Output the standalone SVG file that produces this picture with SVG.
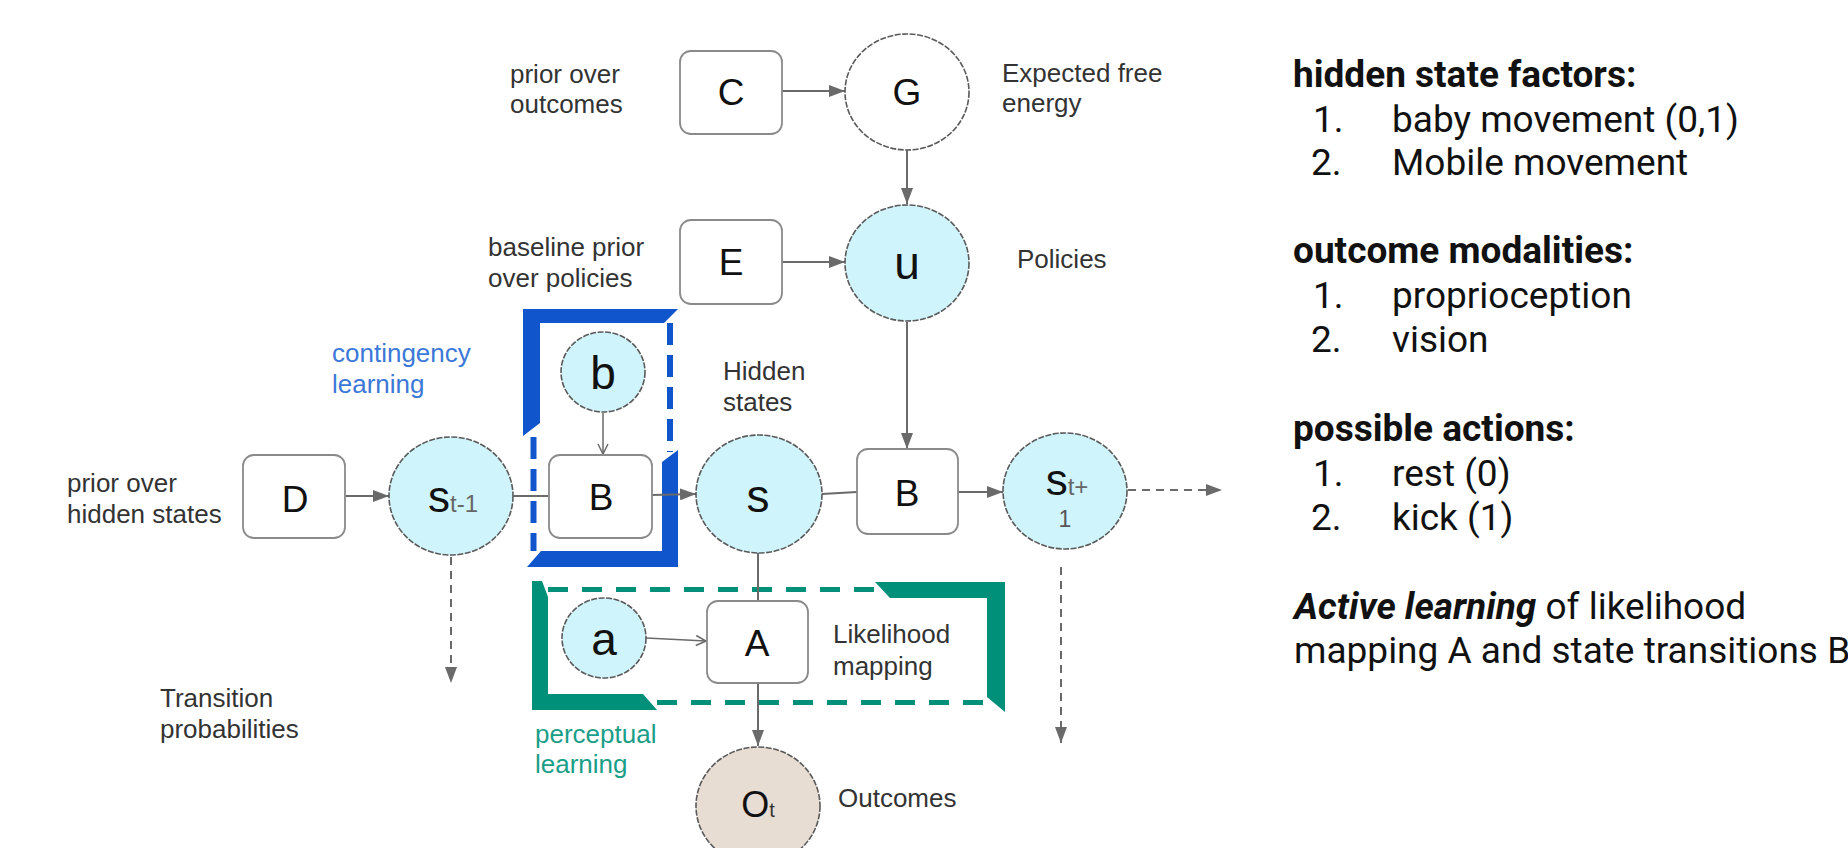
<svg xmlns="http://www.w3.org/2000/svg" width="1848" height="848" viewBox="0 0 1848 848">
<defs>
<style>
.lbl{font-family:"Liberation Sans",Arial,sans-serif;font-size:26px;fill:#333}
.blue{fill:#3c78d8}
.teal{fill:#1a9e88}
.box{fill:#fff;stroke:#8a8a8a;stroke-width:1.8}
.cyan{fill:#d0f4fc;stroke:#5a5a5a;stroke-width:1.6;stroke-dasharray:6 1.5}
.white{fill:#fff;stroke:#5a5a5a;stroke-width:1.6;stroke-dasharray:6 1.5}
.beige{fill:#e8ddd3;stroke:#5a5a5a;stroke-width:1.6;stroke-dasharray:6 1.5}
.cap{font-family:"Liberation Sans",Arial,sans-serif;font-size:37px;fill:#111;text-anchor:middle}
.low{font-family:"Liberation Sans",Arial,sans-serif;font-size:46px;fill:#111;text-anchor:middle}
.sub{fill:#666}
.conn{stroke:#6a6a6a;stroke-width:2;fill:none}
.dash{stroke:#6a6a6a;stroke-width:2;fill:none;stroke-dasharray:8 6}
.rt{font-family:Roboto,"Liberation Sans",sans-serif;font-size:37px;fill:#111}
.rb{font-weight:bold}
</style>
<marker id="arr" viewBox="0 0 16 12" refX="16" refY="6" markerWidth="16" markerHeight="12" markerUnits="userSpaceOnUse" orient="auto"><path d="M0,0 L16,6 L0,12 z" fill="#6a6a6a"/></marker>
<marker id="open" viewBox="0 0 12 12" refX="11" refY="6" markerWidth="12" markerHeight="12" markerUnits="userSpaceOnUse" orient="auto"><path d="M1,1 L11,6 L1,11" fill="none" stroke="#6a6a6a" stroke-width="1.5"/></marker>
</defs>
<rect width="1848" height="848" fill="#fff"/>

<!-- learning brackets -->
<g id="contingency-bracket">
<polygon points="523,309 678,309 664,323 540,323 540,423 523,436" fill="#1155cc"/>
<polygon points="662,462 678,450 678,567 527,567 541,551 662,551" fill="#1155cc"/>
<line x1="533.5" y1="437" x2="533.5" y2="551" stroke="#1155cc" stroke-width="6" stroke-dasharray="22 10"/>
<line x1="670" y1="323" x2="670" y2="452" stroke="#1155cc" stroke-width="6" stroke-dasharray="22 10"/>
</g>
<g id="perceptual-bracket">
<polygon points="532,581 542,581 548,597 548,694 643,694 657,710 532,710" fill="#00907a"/>
<polygon points="875,582 1005,582 1005,712 987,697 987,598 890,598" fill="#00907a"/>
<line x1="548" y1="589.5" x2="875" y2="589.5" stroke="#00907a" stroke-width="5" stroke-dasharray="20 14"/>
<line x1="657" y1="702.5" x2="987" y2="702.5" stroke="#00907a" stroke-width="5" stroke-dasharray="20 14"/>
</g>

<g id="connectors">
<line class="conn" x1="782" y1="91" x2="845" y2="91" marker-end="url(#arr)"/>
<line class="conn" x1="907" y1="150" x2="907" y2="204" marker-end="url(#arr)"/>
<line class="conn" x1="782" y1="262" x2="845" y2="262" marker-end="url(#arr)"/>
<line class="conn" x1="907" y1="322" x2="907" y2="449" marker-end="url(#arr)"/>
<line class="conn" x1="345" y1="496" x2="389" y2="496" marker-end="url(#arr)"/>
<line class="conn" x1="513" y1="496" x2="549" y2="496"/>
<line class="conn" x1="652" y1="495" x2="696" y2="494" marker-end="url(#arr)"/>
<line class="conn" x1="603" y1="413" x2="603" y2="454" style="stroke-width:1.5" marker-end="url(#open)"/>
<line class="conn" x1="822" y1="494" x2="857" y2="492"/>
<line class="conn" x1="958" y1="492" x2="1003" y2="492" marker-end="url(#arr)"/>
<line class="dash" x1="1128" y1="490" x2="1222" y2="490" marker-end="url(#arr)"/>
<line class="dash" x1="1061" y1="567" x2="1061" y2="743" marker-end="url(#arr)"/>
<line class="dash" x1="451" y1="557" x2="451" y2="683" marker-end="url(#arr)"/>
<line class="conn" x1="758" y1="552" x2="758" y2="601"/>
<line class="conn" x1="646" y1="638" x2="706" y2="641" style="stroke-width:1.5" marker-end="url(#open)"/>
<line class="conn" x1="758" y1="683" x2="758" y2="746" marker-end="url(#arr)"/>
</g>

<g id="node-C"><rect class="box" x="680" y="51" width="102" height="83" rx="11"/><text class="cap" x="731" y="105">C</text></g>
<g id="node-G"><ellipse class="white" cx="907" cy="92" rx="62" ry="58"/><text class="cap" x="907" y="105">G</text></g>
<g id="node-E"><rect class="box" x="680" y="220" width="102" height="84" rx="11"/><text class="cap" x="731" y="275">E</text></g>
<g id="node-u"><ellipse class="cyan" cx="907" cy="263" rx="62" ry="58"/><text class="low" x="907" y="279">u</text></g>
<g id="node-D"><rect class="box" x="243" y="455" width="102" height="83" rx="11"/><text class="cap" x="295" y="512">D</text></g>
<g id="node-s-prev"><ellipse class="cyan" cx="451" cy="496" rx="62" ry="59"/><text class="cap" x="453" y="512" style="font-size:44px"><tspan>s</tspan><tspan class="sub" style="font-size:24px">t-1</tspan></text></g>
<g id="node-b"><ellipse class="cyan" cx="603" cy="372" rx="42" ry="40"/><text class="low" x="603" y="389">b</text></g>
<g id="node-B1"><rect class="box" x="549" y="455" width="103" height="83" rx="11"/><text class="cap" x="601" y="510">B</text></g>
<g id="node-s"><ellipse class="cyan" cx="759" cy="494" rx="63" ry="59"/><text class="low" x="758" y="512">s</text></g>
<g id="node-B2"><rect class="box" x="857" y="449" width="101" height="85" rx="11"/><text class="cap" x="907" y="506">B</text></g>
<g id="node-s-next"><ellipse class="cyan" cx="1065" cy="491" rx="62" ry="58"/><text class="cap" x="1067" y="495" style="font-size:44px"><tspan>s</tspan><tspan class="sub" style="font-size:24px">t+</tspan></text><text class="cap" x="1065" y="527" style="font-size:23px;fill:#555">1</text></g>
<g id="node-a"><ellipse class="cyan" cx="604" cy="638" rx="42" ry="40"/><text class="low" x="604" y="655">a</text></g>
<g id="node-A"><rect class="box" x="707" y="601" width="101" height="82" rx="11"/><text class="cap" x="757" y="656">A</text></g>
<g id="node-O"><ellipse class="beige" cx="758" cy="806" rx="62" ry="59"/><text class="cap" x="758" y="817" style="font-size:36px"><tspan>O</tspan><tspan style="font-size:20px;fill:#333">t</tspan></text></g>

<g id="labels">
<text class="lbl" x="510" y="83">prior over</text>
<text class="lbl" x="510" y="113">outcomes</text>
<text class="lbl" x="1002" y="82">Expected free</text>
<text class="lbl" x="1002" y="112">energy</text>
<text class="lbl" x="488" y="256">baseline prior</text>
<text class="lbl" x="488" y="287">over policies</text>
<text class="lbl" x="1017" y="268">Policies</text>
<text class="lbl blue" x="332" y="362">contingency</text>
<text class="lbl blue" x="332" y="393">learning</text>
<text class="lbl" x="723" y="380">Hidden</text>
<text class="lbl" x="723" y="411">states</text>
<text class="lbl" x="67" y="492">prior over</text>
<text class="lbl" x="67" y="523">hidden states</text>
<text class="lbl" x="160" y="707">Transition</text>
<text class="lbl" x="160" y="738">probabilities</text>
<text class="lbl" x="833" y="643">Likelihood</text>
<text class="lbl" x="833" y="675">mapping</text>
<text class="lbl teal" x="535" y="743">perceptual</text>
<text class="lbl teal" x="535" y="773">learning</text>
<text class="lbl" x="838" y="807">Outcomes</text>
</g>

<g id="legend">
<text class="rt rb" x="1293" y="87">hidden state factors:</text>
<text class="rt" x="1313" y="132">1.</text><text class="rt" x="1392" y="132">baby movement (0,1)</text>
<text class="rt" x="1311" y="175">2.</text><text class="rt" x="1392" y="175">Mobile movement</text>
<text class="rt rb" x="1293" y="263">outcome modalities:</text>
<text class="rt" x="1313" y="308">1.</text><text class="rt" x="1392" y="308">proprioception</text>
<text class="rt" x="1311" y="352">2.</text><text class="rt" x="1392" y="352">vision</text>
<text class="rt rb" x="1293" y="441">possible actions:</text>
<text class="rt" x="1313" y="486">1.</text><text class="rt" x="1392" y="486">rest (0)</text>
<text class="rt" x="1311" y="530">2.</text><text class="rt" x="1392" y="530">kick (1)</text>
<text class="rt" x="1294" y="619"><tspan font-weight="bold" font-style="italic">Active learning</tspan> of likelihood</text>
<text class="rt" x="1294" y="663">mapping A and state transitions B</text>
</g>
</svg>
